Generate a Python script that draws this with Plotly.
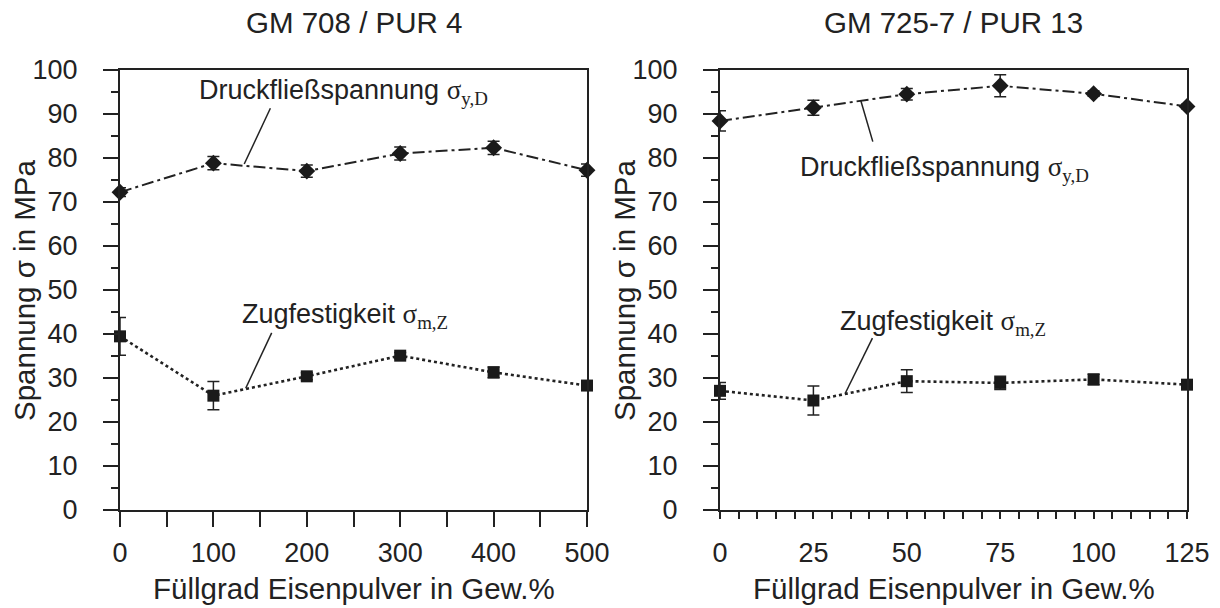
import plotly.graph_objects as go

# ---------------- data ----------------
x_left = [0, 100, 200, 300, 400, 500]
dru_left = [72.2, 78.8, 77.0, 81.0, 82.3, 77.2]
dru_left_err = [1.0, 1.5, 1.4, 1.5, 1.5, 1.4]
zug_left = [39.4, 25.9, 30.3, 35.0, 31.2, 28.2]
zug_left_err = [4.3, 3.2, 0.8, 0.7, 1.2, 0.6]

x_right = [0, 25, 50, 75, 100, 125]
dru_right = [88.4, 91.4, 94.5, 96.4, 94.6, 91.7]
dru_right_err = [2.3, 1.7, 1.3, 2.5, 0.6, 0.5]
zug_right = [27.0, 24.8, 29.2, 28.8, 29.6, 28.4]
zug_right_err = [1.9, 3.3, 2.6, 1.5, 1.2, 0.5]

left_xticks = [0, 100, 200, 300, 400, 500]
right_xticks = [0, 25, 50, 75, 100, 125]
y_ticks = [0, 10, 20, 30, 40, 50, 60, 70, 80, 90, 100]

title_left = "GM 708 / PUR 4"
title_right = "GM 725-7 / PUR 13"
x_title = "Füllgrad Eisenpulver in Gew.%"
y_title = "Spannung σ in MPa"
lab_dru = "Druckfließspannung <span style=\"font-family:Liberation Serif\">σ<sub>y,D</sub></span>"
lab_zug = "Zugfestigkeit <span style=\"font-family:Liberation Serif\">σ<sub>m,Z</sub></span>"

# ---------------- style ----------------
W, H = 1220, 608
INK = "#222222"
FONT = "Liberation Sans, Arial, sans-serif"
FS = 27
FT = 29.5


def px(p):
    return p / W


def py(p):
    return 1 - p / H


dom_y = [py(509.5), py(70)]
dom_xl = [px(120), px(587)]
dom_xr = [px(720), px(1187)]

fig = go.Figure()


def add_series(x, y, err, xa, ya, symbol, size, dash, lw):
    fig.add_trace(go.Scatter(
        x=x, y=y, xaxis=xa, yaxis=ya, mode="lines+markers",
        line=dict(color=INK, width=lw, dash=dash),
        marker=dict(symbol=symbol, size=size, color="#1a1a1a"),
        error_y=dict(type="data", array=err, visible=True, color=INK,
                     thickness=1.5, width=6),
        cliponaxis=False, showlegend=False, hoverinfo="skip"))


add_series(x_left, dru_left, dru_left_err, "x", "y", "diamond", 13, "12px,4px,3px,4px", 2)
add_series(x_left, zug_left, zug_left_err, "x", "y", "square", 12, "3px,3px", 2.6)
add_series(x_right, dru_right, dru_right_err, "x2", "y2", "diamond", 13, "12px,4px,3px,4px", 2)
add_series(x_right, zug_right, zug_right_err, "x2", "y2", "square", 12, "3px,3px", 2.6)

axis_common = dict(showline=True, linecolor=INK, linewidth=2, mirror=True,
                   showgrid=False, zeroline=False, ticks="outside",
                   tickcolor=INK, tickwidth=2,
                   tickfont=dict(family=FONT, size=FS, color=INK),
                   automargin=False, fixedrange=True)

overlay_common = dict(showline=False, showgrid=False, zeroline=False,
                      ticks="outside", tickcolor=INK, tickwidth=2,
                      showticklabels=False, automargin=False, fixedrange=True)


def minor(d, ln):
    return dict(dtick=d, ticklen=ln, ticks="outside", tickwidth=2,
                tickcolor=INK, showgrid=False)


fig.update_layout(
    width=W, height=H,
    margin=dict(l=0, r=0, t=0, b=0),
    paper_bgcolor="white", plot_bgcolor="white",
    font=dict(family=FONT, size=FS, color=INK),
    # left panel
    xaxis=dict(domain=dom_xl, anchor="y", range=[0, 500],
               tickmode="array", tickvals=left_xticks, ticklen=15,
               ticklabelstandoff=3, minor=minor(50, 15), **axis_common),
    xaxis3=dict(overlaying="x", anchor="y", range=[0, 500], side="bottom",
                tickmode="array", tickvals=left_xticks, ticklen=22,
                **overlay_common),
    yaxis=dict(domain=dom_y, anchor="x", range=[0, 100],
               tickmode="array", tickvals=y_ticks, ticklen=15,
               ticklabelstandoff=20, minor=minor(5, 7), **axis_common),
    yaxis3=dict(overlaying="y", anchor="x", range=[0, 100], side="left",
                tickmode="array", tickvals=[0, 50, 100], ticklen=22,
                **overlay_common),
    # right panel
    xaxis2=dict(domain=dom_xr, anchor="y2", range=[0, 125],
                tickmode="array", tickvals=right_xticks, ticklen=7,
                ticklabelstandoff=11, minor=minor(5, 7), **axis_common),
    xaxis4=dict(overlaying="x2", anchor="y2", range=[0, 125], side="bottom",
                tickmode="array", tickvals=[0, 100], ticklen=22,
                minor=minor(10, 15), **overlay_common),
    yaxis2=dict(domain=dom_y, anchor="x2", range=[0, 100],
                tickmode="array", tickvals=y_ticks, ticklen=15,
                ticklabelstandoff=20, minor=minor(5, 7), **axis_common),
    yaxis4=dict(overlaying="y2", anchor="x2", range=[0, 100], side="left",
                tickmode="array", tickvals=[0, 50, 100], ticklen=22,
                **overlay_common),
)

ann = []
# panel titles
ann.append(dict(text=title_left, x=px(353.5), y=py(22), xref="paper", yref="paper",
                showarrow=False, xanchor="center", yanchor="middle", font=dict(size=FT)))
ann.append(dict(text=title_right, x=px(953.5), y=py(22), xref="paper", yref="paper",
                showarrow=False, xanchor="center", yanchor="middle", font=dict(size=FT)))
# x axis titles
for cx in (353.5, 953.5):
    ann.append(dict(text=x_title, x=px(cx), y=py(588), xref="paper", yref="paper",
                    showarrow=False, xanchor="center", yanchor="middle", font=dict(size=FT)))
# y axis titles
for cx in (24, 624):
    ann.append(dict(text=y_title, x=px(cx), y=py(290), xref="paper", yref="paper",
                    showarrow=False, xanchor="center", yanchor="middle", textangle=-90,
                    font=dict(size=FT)))
# curve labels
ann.append(dict(text=lab_dru, x=82, y=95.0, xref="x", yref="y", showarrow=False,
                xanchor="left", yanchor="middle", font=dict(size=FS)))
ann.append(dict(text=lab_zug, x=128.5, y=44.0, xref="x", yref="y", showarrow=False,
                xanchor="left", yanchor="middle", font=dict(size=FS)))
ann.append(dict(text=lab_dru, x=20.9, y=77.5, xref="x2", yref="y2", showarrow=False,
                xanchor="left", yanchor="middle", font=dict(size=FS)))
ann.append(dict(text=lab_zug, x=31.5, y=42.5, xref="x2", yref="y2", showarrow=False,
                xanchor="left", yanchor="middle", font=dict(size=FS)))
fig.update_layout(annotations=ann)

# leader lines from curve to label
leaders = [
    ("x", "y", 133, 78.6, 161, 91.3),
    ("x", "y", 134.6, 27.6, 162.4, 40.2),
    ("x2", "y2", 37.7, 93.0, 40.9, 83.7),
    ("x2", "y2", 33.5, 26.4, 40.8, 39.0),
]
for xr, yr, x0, y0, x1, y1 in leaders:
    fig.add_shape(type="line", xref=xr, yref=yr, x0=x0, y0=y0, x1=x1, y1=y1,
                  line=dict(color=INK, width=1.5))

fig.write_html("out.html")
